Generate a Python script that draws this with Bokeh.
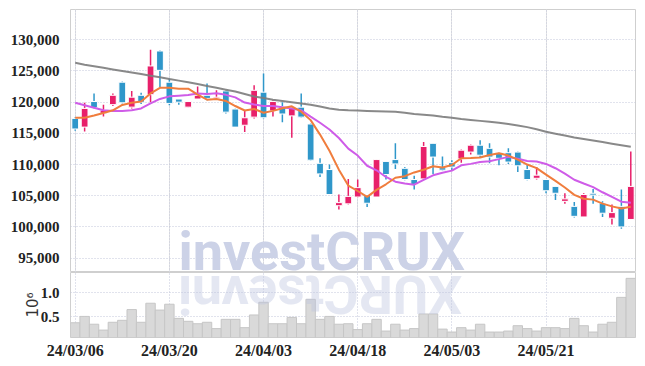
import math
from bokeh.plotting import figure
from bokeh.models import (Range1d, FixedTicker, NumeralTickFormatter, ColumnDataSource,
                          Grid, Label)
from bokeh.layouts import column
from bokeh.embed import file_html
from bokeh.resources import INLINE

# ---------------- data ----------------
dates = ["24/03/06", "24/03/07", "24/03/08", "24/03/11", "24/03/12", "24/03/13", "24/03/14",
         "24/03/15", "24/03/18", "24/03/19", "24/03/20", "24/03/21", "24/03/22", "24/03/25",
         "24/03/26", "24/03/27", "24/03/28", "24/03/29", "24/04/01", "24/04/02", "24/04/03",
         "24/04/04", "24/04/05", "24/04/08", "24/04/09", "24/04/11", "24/04/12", "24/04/15",
         "24/04/16", "24/04/17", "24/04/18", "24/04/19", "24/04/22", "24/04/23", "24/04/24",
         "24/04/25", "24/04/26", "24/04/29", "24/04/30", "24/05/02", "24/05/03", "24/05/07",
         "24/05/08", "24/05/09", "24/05/10", "24/05/13", "24/05/14", "24/05/16", "24/05/17",
         "24/05/20", "24/05/21", "24/05/22", "24/05/23", "24/05/24", "24/05/27", "24/05/28",
         "24/05/29", "24/05/30", "24/05/31", "24/06/03"]

opens = [117400, 116000, 120100, 118200, 119600, 123200, 119200, 121100, 121200, 128200,
         123200, 120500, 119200, 120500, 121100, 120600, 121800, 118900, 116300, 117600,
         121600, 118600, 119300, 117800, 119200, 116500, 110200, 109200, 103400, 103700,
         104800, 105100, 104800, 110500, 110800, 109400, 107600, 107700, 113400, 109500,
         110300, 110900, 112000, 113100, 112600, 111900, 111900, 112000, 109200, 107800,
         107600, 106500, 104100, 103300, 101600, 105400, 103800, 101400, 103300, 101200]
highs = [117600, 119900, 121400, 119600, 121400, 123300, 121800, 121500, 128400, 128300,
         123800, 120500, 120100, 122500, 123000, 121900, 121900, 119000, 118700, 122700,
         124600, 120300, 120000, 119200, 121400, 116600, 111000, 110000, 105200, 107700,
         107600, 105100, 110900, 110500, 113400, 109600, 108200, 113600, 113400, 111300,
         110700, 112400, 113200, 113900, 113400, 112000, 112600, 112100, 110100, 109600,
         107700, 106500, 105400, 104000, 105400, 106100, 104100, 103600, 106000, 112100]
lows = [115400, 115300, 119000, 117700, 119400, 119800, 119000, 119700, 120000, 122400,
        119500, 119600, 119200, 120500, 120300, 120500, 118200, 116000, 115200, 117400,
        117400, 117700, 116800, 114300, 117500, 110600, 108000, 105200, 102800, 103600,
        104700, 103200, 104800, 107600, 109300, 107500, 106000, 107600, 108500, 109000,
        109100, 110300, 111600, 111200, 110200, 109900, 110100, 108800, 107500, 107600,
        105400, 104300, 103700, 101500, 101600, 103700, 101600, 100400, 99700, 101100]
closes = [115700, 119000, 119100, 118700, 121100, 119900, 120800, 120000, 125800, 125100,
          119800, 120000, 120100, 121100, 120600, 120800, 118400, 116000, 117500, 121900,
          117500, 120100, 118100, 119100, 117600, 110700, 108500, 105200, 103900, 104900,
          106300, 103800, 110800, 108400, 110100, 107600, 106800, 112900, 111200, 109100,
          109600, 112300, 113100, 111500, 111200, 111000, 110400, 109800, 107600, 108300,
          105800, 105400, 104500, 101700, 105200, 105100, 102200, 102300, 100000, 106500]

ma5 = [117500, 117500, 117850, 118250, 118700, 119560, 119920, 120100, 121400, 122300,
       122300, 122140, 122160, 121220, 120400, 120520, 120200, 119380, 118660, 118920,
       118300, 118600, 119020, 119340, 118480, 117120, 114800, 112220, 109180, 106640,
       105760, 104820, 105940, 106840, 107880, 108140, 108740, 109160, 109720, 109520,
       109920, 111020, 111060, 111120, 111540, 111820, 111440, 110780, 110000, 109420,
       108380, 107380, 106320, 105140, 104520, 104380, 103740, 103300, 102960, 103220]
ma10 = [119900, 119500, 119100, 118700, 118600, 118600, 118700, 119000, 119800, 120520,
        120930, 121030, 121130, 121370, 121320, 121410, 121170, 120770, 119940, 119620,
        119390, 119400, 119200, 119000, 118700, 117690, 116700, 115620, 114260, 112560,
        111440, 109810, 109080, 108010, 107260, 106950, 106780, 107550, 108280, 108700,
        109030, 109880, 110110, 110420, 110530, 110870, 111230, 110920, 110560, 110480,
        110100, 109410, 108550, 107570, 106970, 106380, 105560, 104810, 104050, 103870]
ma60 = [126300, 126000, 125750, 125500, 125250, 125000, 124750, 124500, 124250, 124000,
        123700, 123450, 123200, 122900, 122600, 122300, 122000, 121700, 121300, 120900,
        120650, 120400, 120200, 120000, 119800, 119600, 119300, 119000, 118800, 118700,
        118650, 118600, 118550, 118500, 118450, 118300, 118100, 118000, 117850, 117650,
        117500, 117300, 117150, 117000, 116850, 116700, 116500, 116250, 116000, 115650,
        115250, 114950, 114650, 114350, 114100, 113850, 113600, 113350, 113100, 112850]

volumes = [380000, 510000, 350000, 230000, 390000, 430000, 650000, 390000, 780000, 640000,
           760000, 470000, 410000, 360000, 390000, 260000, 450000, 450000, 280000, 540000,
           800000, 360000, 360000, 490000, 360000, 860000, 450000, 510000, 350000, 360000,
           240000, 360000, 450000, 210000, 350000, 230000, 260000, 560000, 560000, 250000,
           190000, 280000, 230000, 350000, 190000, 190000, 210000, 320000, 260000, 210000,
           280000, 280000, 260000, 470000, 320000, 190000, 350000, 390000, 900000, 1290000]

price_ticks = [95000, 100000, 105000, 110000, 115000, 120000, 125000, 130000]
vol_ticks = [0.5, 1.0]
date_tick_every = 10

# ---------------- styles ----------------
RED = "#e8206a"
BLUE = "#2f97ca"
ORANGE = "#f07d3d"
PURPLE = "#cf5ce8"
GRAY = "#7c7c7c"
GRID = "#c3c7da"
FONT = "Liberation Sans Narrow"
WM_FONT = "Roboto"

n = len(dates)
idx = list(range(n))
x_range = Range1d(-0.5, n - 0.5)
date_ticks = list(range(0, n, date_tick_every))

P_TOP, P_BOT = 134850, 92700
P_FRAME_H = 263          # price frame pixel height (frame top at 9)
V_TOP, V_BOT = 1.41, 0.078
V_FRAME_H = 65
FRAME_W = 565

def price_at(py):        # py = pixel offset inside the price frame
    return P_TOP - py * (P_TOP - P_BOT) / P_FRAME_H

def vol_at(py):
    return V_TOP - py * (V_TOP - V_BOT) / V_FRAME_H

def style_axis(ax, size):
    ax.axis_line_color = None
    ax.major_tick_line_color = None
    ax.minor_tick_line_color = None
    ax.major_label_text_font = FONT
    ax.major_label_text_font_style = "bold"
    ax.major_label_text_font_size = size
    ax.major_label_text_color = "#222222"

# ---------------- price panel ----------------
p1 = figure(width=645, height=272, x_range=x_range, y_range=Range1d(P_BOT, P_TOP),
            output_backend="svg", toolbar_location=None, x_axis_location=None,
            min_border_left=70, min_border_right=10, min_border_top=9, min_border_bottom=0)
p1.background_fill_color = "white"
p1.border_fill_color = "white"
p1.outline_line_color = "#cfcfcf"
p1.ygrid.ticker = FixedTicker(ticks=price_ticks)
p1.ygrid.grid_line_color = GRID
p1.ygrid.grid_line_dash = "1 2"
p1.add_layout(Grid(dimension=0, ticker=FixedTicker(ticks=date_ticks),
                   grid_line_color=GRID, grid_line_dash="1 2"))
ya = p1.yaxis[0]
ya.ticker = FixedTicker(ticks=price_ticks)
ya.formatter = NumeralTickFormatter(format="0,0")
style_axis(ya, "15px")
ya.major_label_standoff = 5

# watermark (behind the marks)
wm_text = "investCRUX"
wm_adv = {"i": 0.247, "n": 0.553, "v": 0.497, "e": 0.532, "s": 0.518, "t": 0.334,
          "C": 0.655, "R": 0.633, "U": 0.651, "X": 0.638}
wm_size = 54
px_per_unit = FRAME_W / n
wm_x0 = (178 - 70) / px_per_unit - 0.5
p1.add_layout(Label(x=wm_x0, y=price_at(242), text=wm_text, text_font=WM_FONT,
                    text_font_style="bold", text_font_size=f"{wm_size}px",
                    text_color="#ccd2e7", text_alpha=1.0,
                    text_align="left", text_baseline="middle", level="underlay"))

tops = [max(o, c) for o, c in zip(opens, closes)]
bots = [min(o, c) for o, c in zip(opens, closes)]
cols = [RED if c >= o else BLUE for o, c in zip(opens, closes)]
src = ColumnDataSource(dict(x=idx, high=highs, low=lows, top=tops, bottom=bots, color=cols))
p1.segment(x0="x", y0="low", x1="x", y1="high", line_color="color", line_width=1.5, source=src)
p1.vbar(x="x", width=0.72, top="top", bottom="bottom", fill_color="color",
        line_color="white", line_width=1, source=src)

p1.line(idx, ma60, line_color=GRAY, line_width=2, line_alpha=0.9)
p1.line(idx, ma10, line_color=PURPLE, line_width=2)
p1.line(idx, ma5, line_color=ORANGE, line_width=2)

# ---------------- volume panel ----------------
p2 = figure(width=645, height=94, x_range=x_range, y_range=Range1d(V_BOT, V_TOP),
            output_backend="svg", toolbar_location=None,
            min_border_left=70, min_border_right=10, min_border_top=0, min_border_bottom=29)
p2.background_fill_color = "white"
p2.border_fill_color = "white"
p2.outline_line_color = "#cfcfcf"
vm = [v / 1e6 for v in volumes]
p2.vbar(x=idx, top=vm, bottom=0, width=1.0, fill_color="#d9d9d9", line_color="#c6c6c6",
        line_width=1)

# reflection of the watermark, letter by letter (upside down)
cum = 0.0
for ch in wm_text:
    w = wm_adv[ch] * wm_size
    cx = wm_x0 + (cum + w / 2) / px_per_unit
    cum += w
    p2.add_layout(Label(x=cx, y=vol_at(22), text=ch, text_font=WM_FONT, text_font_style="bold",
                        text_font_size=f"{wm_size}px", text_color="#bcc4de", text_alpha=0.4,
                        text_align="center", text_baseline="middle", angle=math.pi))

p2.ygrid.ticker = FixedTicker(ticks=vol_ticks)
p2.ygrid.grid_line_color = GRID
p2.ygrid.grid_line_dash = "1 2"
p2.xgrid.grid_line_color = GRID
p2.xgrid.grid_line_dash = "1 2"
xa = p2.xaxis[0]
xa.ticker = FixedTicker(ticks=date_ticks)
xa.major_label_overrides = {i: dates[i] for i in date_ticks}
style_axis(xa, "16px")
xa.major_label_standoff = -2
vy = p2.yaxis[0]
vy.ticker = FixedTicker(ticks=vol_ticks)
vy.formatter = NumeralTickFormatter(format="0.0")
style_axis(vy, "15px")
vy.major_label_standoff = 5
vy.axis_label = "10⁶"
vy.axis_label_text_font = "DejaVu Sans"
vy.axis_label_text_font_style = "normal"
vy.axis_label_text_font_size = "15px"
vy.axis_label_text_color = "#333333"
vy.axis_label_standoff = -4

layout = column(p1, p2, spacing=0)
open("out.html", "w").write(file_html(layout, INLINE))
